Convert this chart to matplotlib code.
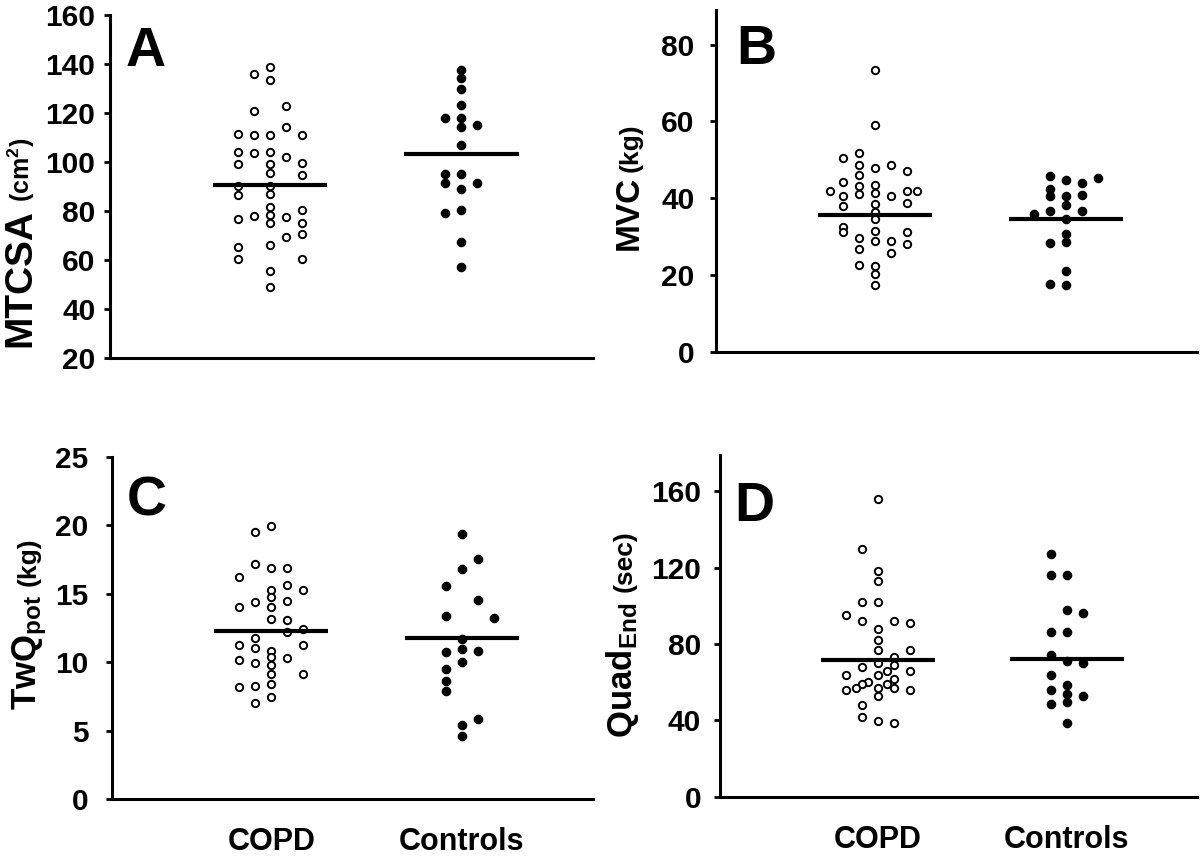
import numpy as np
import matplotlib
matplotlib.use("Agg")
import matplotlib.pyplot as plt

plt.rcParams['font.family'] = ['Liberation Sans', 'DejaVu Sans']
plt.rcParams['font.weight'] = 'bold'
plt.rcParams['mathtext.fontset'] = 'custom'
plt.rcParams['mathtext.rm'] = 'Liberation Sans:bold'
plt.rcParams['mathtext.bf'] = 'Liberation Sans:bold'
plt.rcParams['mathtext.it'] = 'Liberation Sans:bold'

groups = ["COPD", "Controls"]

# ---- Panel A: MTCSA (cm2) ----
a_copd = [138.9, 135.8, 133.5, 120.9, 122.7, 114.2, 111.4, 110.9, 111.0, 110.9,
          104.2, 103.8, 104.2, 102.2, 99.2, 99.2, 99.5, 95.4, 94.6, 90.3,
          90.2, 86.5, 86.9, 81.5, 78.1, 78.5, 77.6, 80.3, 76.6, 75.0,
          74.9, 69.3, 70.7, 65.4, 66.1, 60.3, 60.3, 55.6, 49.1]
a_copd_slot = [0, -1, 0, -1, 1, 1, -2, -1, 0, 2,
               -2, -1, 0, 1, -2, 0, 2, 0, 2, -2,
               0, -2, 0, 0, -1, 0, 1, 2, -2, 0,
               2, 1, 2, -2, 0, -2, 2, 0, 0]
a_ctrl = [137.6, 134.4, 129.8, 123.3, 118.1, 118.1, 115.2, 114.2, 106.8, 95.0,
          95.0, 91.6, 91.6, 88.8, 79.2, 80.3, 67.3, 57.0]
a_ctrl_slot = [0, 0, 0, 0, -1, 0, 1, 0, 0, -1,
               0, -1, 1, 0, -1, 0, 0, 0]
a_means = [90.7, 103.4]

# ---- Panel B: MVC (kg) ----
b_copd = [73.4, 59.0, 50.5, 51.7, 48.6, 48.0, 48.7, 47.2, 46.2, 44.2,
          43.3, 43.5, 41.9, 40.5, 41.2, 41.5, 40.5, 41.9, 41.8, 38.0,
          38.6, 38.9, 36.5, 34.5, 32.6, 31.3, 31.6, 31.2, 29.7, 28.9,
          28.9, 28.2, 26.9, 25.8, 22.6, 22.3, 20.3, 17.5]
b_copd_slot = [0, 0, -2, -1, -1, 0, 1, 2, -1, -2,
               -1, 0, -2.8, -2, -1, 0, 1, 2, 2.6, -2,
               0, 2, 0, 0, -2, -2, 0, 2, -1, 0,
               1, 2, -1, 1, -1, 0, 0, 0]
b_ctrl = [45.8, 44.9, 44.0, 45.3, 42.5, 40.5, 40.6, 40.8, 38.3, 36.7,
          36.7, 35.9, 34.5, 30.6, 28.6, 28.5, 21.0, 17.7, 17.5]
b_ctrl_slot = [-1, 0, 1, 2, -1, -1, 0, 1, 0, -1,
               1, -2, 0, 0, 0, -1, 0, -1, 0]
b_means = [35.7, 34.6]

# ---- Panel C: TwQpot (kg) ----
c_copd = [19.96, 19.47, 17.15, 16.84, 16.88, 16.2, 15.6, 15.28, 15.26, 14.72,
          14.35, 14.43, 13.99, 13.99, 13.16, 13.06, 12.16, 12.38, 11.79, 11.21,
          11.01, 11.28, 10.82, 10.38, 10.16, 9.92, 10.31, 9.75, 9.09, 9.14,
          8.16, 8.28, 8.41, 7.43, 7.04]
c_copd_slot = [0, -1, -1, 0, 1, -2, 1, 0, 2, 0,
               -1, 1, -2, 0, 0, 1, 1, 2, -1, -2,
               -1, 2, 0, 0, -2, -1, 1, 0, 0, 2,
               -2, -1, 0, 0, -1]
c_ctrl = [19.37, 17.49, 16.76, 15.52, 14.5, 13.33, 13.18, 11.7, 10.72, 10.94,
          10.82, 10.01, 9.48, 8.63, 7.89, 5.87, 5.43, 4.63]
c_ctrl_slot = [0, 1, 0, -1, 1, -1, 2, 0, -1, 0,
               1, 0, -1, -1, -1, 1, 0, 0]
c_means = [12.26, 11.77]

# ---- Panel D: QuadEnd (sec) ----
d_copd = [156.1, 130.0, 118.0, 113.1, 102.0, 102.0, 95.0, 92.1, 92.1, 91.0,
          88.0, 81.9, 77.0, 77.0, 73.2, 67.9, 69.8, 68.8, 66.0, 66.0,
          63.9, 63.9, 61.9, 60.0, 59.0, 59.0, 56.0, 56.9, 56.9, 56.9,
          56.0, 52.9, 47.8, 41.8, 39.9, 38.8]
d_copd_slot = [0, -1, 0, 0, -1, 0, -2, -1, 1, 2,
               0, 0, 0, 2, 1, -1, 0, 1, 0.6, 2,
               -2, 0, 1, -0.6, -1, 0.6, -2, -1.4, 0, 1,
               2, 0, -1, -1, 0, 1]
d_ctrl = [127.0, 116.0, 116.0, 98.0, 96.1, 86.1, 86.1, 74.0, 70.9, 69.8,
          63.9, 58.6, 56.0, 53.9, 52.9, 49.7, 48.8, 38.8]
d_ctrl_slot = [-1, -1, 0, 0, 1, -1, 0, -1, 0, 1,
               -1, 0, -1, 0, 1, 0, -1, 0]
d_means = [71.8, 72.4]

panels = [
    dict(letter="A", copd=a_copd, cs=a_copd_slot, ctrl=a_ctrl, ks=a_ctrl_slot,
         means=a_means, ylim=(20, 160), yticks=[20, 40, 60, 80, 100, 120, 140, 160],
         rect=[0.0917, 0.5828, 0.4025, 0.3998], xlabels=False, pad=6.5, lpos=(126, 52)),
    dict(letter="B", copd=b_copd, cs=b_copd_slot, ctrl=b_ctrl, ks=b_ctrl_slot,
         means=b_means, ylim=(0, 89), yticks=[0, 20, 40, 60, 80],
         rect=[0.5967, 0.5897, 0.4008, 0.3986], xlabels=False, pad=11.5, lpos=(736, 50)),
    dict(letter="C", copd=c_copd, cs=c_copd_slot, ctrl=c_ctrl, ks=c_ctrl_slot,
         means=c_means, ylim=(0, 25), yticks=[0, 5, 10, 15, 20, 25],
         rect=[0.0933, 0.0688, 0.4008, 0.3990], xlabels=True, pad=13, lpos=(127, 502)),
    dict(letter="D", copd=d_copd, cs=d_copd_slot, ctrl=d_ctrl, ks=d_ctrl_slot,
         means=d_means, ylim=(0, 179), yticks=[0, 40, 80, 120, 160],
         rect=[0.6000, 0.0714, 0.3975, 0.3983], xlabels=True, pad=9.5, lpos=(734, 507)),
]

fig = plt.figure(figsize=(12, 8.58), dpi=100)
slot_w = 0.084
half = 0.30

for p in panels:
    ax = fig.add_axes(p["rect"])
    x1 = 1 + np.array(p["cs"]) * slot_w
    x2 = 2 + np.array(p["ks"]) * slot_w
    ax.plot(x1, p["copd"], 'o', ms=5.3, mfc='white', mec='black', mew=1.4, ls='none', zorder=3)
    ax.plot(x2, p["ctrl"], 'o', ms=5.9, mfc='black', mec='black', mew=1.0, ls='none', zorder=3)
    for i, m in enumerate(p["means"]):
        ax.plot([i + 1 - half, i + 1 + half], [m, m], color='black', lw=3.0, zorder=4,
                solid_capstyle='butt')
    ax.set_xlim(0.164, 2.689)
    ax.set_ylim(*p["ylim"])
    ax.set_yticks(p["yticks"])
    for s in ["top", "right"]:
        ax.spines[s].set_visible(False)
    for s in ["left", "bottom"]:
        ax.spines[s].set_linewidth(2.2)
    ax.tick_params(axis='y', direction='out', length=4, width=2, labelsize=21.5, pad=p["pad"])
    if p["xlabels"]:
        ax.set_xticks([1, 2])
        ax.set_xticklabels(groups, fontsize=22, fontweight='bold')
        ax.tick_params(axis='x', length=0, pad=20)
    else:
        ax.set_xticks([])
    for lab in ax.get_yticklabels():
        lab.set_fontweight('bold')
    lx, ly = p["lpos"]
    fig.text(lx / 1200, 1 - ly / 858, p["letter"], fontsize=40,
             fontweight='bold', ha='left', va='center')

def ftext(x, y, s, size, **kw):
    fig.text(x / 1200, 1 - y / 858, s, fontsize=size, fontweight='bold', rotation=90,
             rotation_mode='anchor', ha='left', va='baseline', **kw)

# Y-axis labels (pixel anchor positions, baseline start)
ftext(30, 347, "MTCSA", 28)
ftext(30, 202, "(cm$^{2}$)", 18)
ftext(638, 250, "MVC", 24)
ftext(638, 172, "(kg)", 19)
ftext(36, 710, r"TwQ$_{\mathrm{pot}}$", 25)
ftext(36, 586, "(kg)", 19)
ftext(632, 738, r"Quad$_{\mathrm{End}}$", 25)
ftext(632, 592, "(sec)", 19)

fig.savefig("out.png", dpi=100)
